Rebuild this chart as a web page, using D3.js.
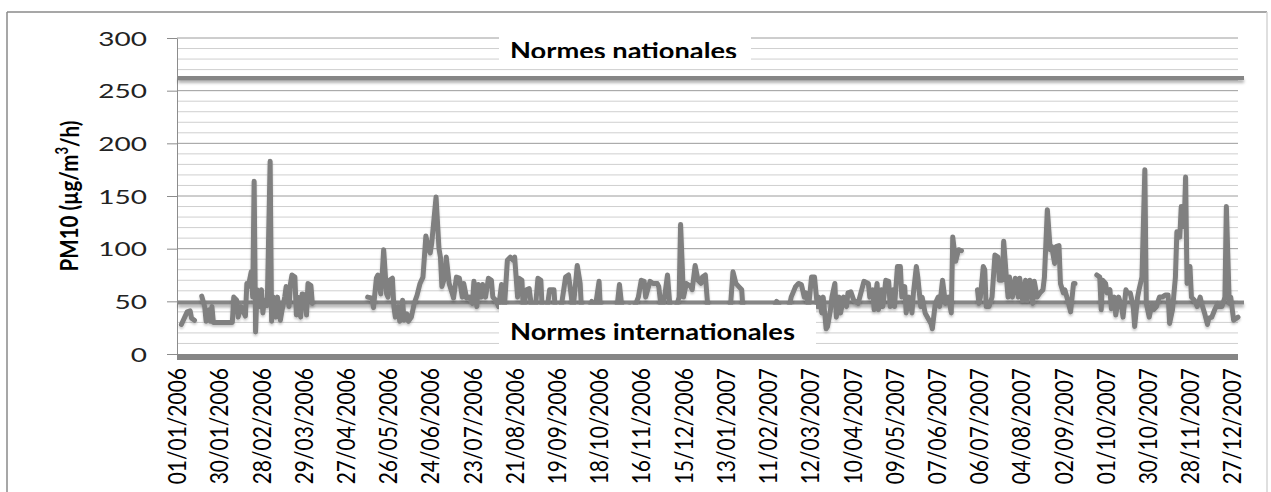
<!DOCTYPE html>
<html><head><meta charset="utf-8">
<script src="https://cdn.jsdelivr.net/npm/d3@7"></script>
<style>body{margin:0;background:#fff}</style>
</head><body><svg id="c" width="1271" height="492"></svg>
<script>
// ---- data ----
const tickLabels = ["01/01/2006","30/01/2006","28/02/2006","29/03/2006","27/04/2006","26/05/2006","24/06/2006","23/07/2006","21/08/2006","19/09/2006","18/10/2006","16/11/2006","15/12/2006","13/01/2007","11/02/2007","12/03/2007","10/04/2007","09/05/2007","07/06/2007","06/07/2007","04/08/2007","02/09/2007","01/10/2007","30/10/2007","28/11/2007","27/12/2007"];
const yTicks = [0,50,100,150,200,250,300];
const firstDay = "01/01/2006", lastDay = "31/12/2007";
const normeNationale = 262;
const normeInternationale = 49;
const normeLabels = ["Normes nationales", "Normes internationales"];
const yTitle = "PM10 (µg/m";
// [day offset from 01/01/2006, PM10 value]; null = missing data
const pm10Readings = [
[3,28],[7,40],[9,41],[10,34],[12,32],[14,null],
[17,55],[19,45],[20,31],[22,42],[23,31],[24,45],[25,30],[30,30],[34,30],[38,30],
[39,54],[41,51],[42,35],[44,45],[47,36],[48,67],[49,64],[51,78],[52,54],[53,164],
[54,21],[55,61],[57,45],[58,61],[59,39],[60,51],[62,46],[64,183],[65,31],[66,54],
[68,35],[69,54],[71,32],[72,40],[74,54],[75,64],[77,45],[78,67],[79,75],[81,73],
[82,37],[83,54],[85,35],[86,57],[88,56],[89,37],[90,67],[92,65],[93,48],[110,null],
[131,54],[134,53],[135,44],[137,72],[138,75],[140,57],[141,76],[142,99],[144,57],[145,54],
[146,70],[148,72],[149,45],[150,35],[152,45],[153,31],[155,51],[156,32],[158,38],[159,31],
[161,35],[163,48],[165,56],[167,67],[169,73],[171,112],[173,99],[174,96],[175,105],[178,149],
[180,100],[181,92],[182,64],[184,73],[185,92],[187,67],[189,58],[190,53],[192,73],[194,72],
[196,54],[197,67],[199,53],[201,54],[203,48],[204,69],[206,45],[207,66],[209,54],[210,66],
[212,54],[214,72],[216,70],[217,54],[219,51],[221,45],[223,66],[225,45],[227,89],[229,92],
[231,89],[232,92],[234,54],[235,72],[237,70],[238,40],[240,61],[242,62],[244,40],[246,40],
[248,72],[250,70],[251,40],[254,40],[256,61],[259,61],[260,40],[264,45],[267,73],[269,75],
[271,54],[272,40],[275,84],[277,67],[278,40],[283,40],[285,50],[287,40],[290,69],[291,40],
[302,40],[304,66],[306,40],[311,45],[313,40],[317,54],[319,70],[321,69],[322,54],[325,69],
[327,67],[330,67],[331,64],[333,40],[335,54],[337,75],[339,40],[342,40],[345,54],[346,123],
[348,54],[350,67],[353,64],[354,61],[356,84],[358,70],[360,67],[361,73],[363,75],[365,40],
[370,40],[375,40],[380,40],[382,78],[384,67],[386,64],[388,61],[389,40],[395,40],[400,40],
[405,40],[410,40],[412,50],[416,40],[420,40],[422,54],[425,64],[427,67],[429,66],[431,54],
[432,58],[434,45],[436,73],[438,73],[440,45],[441,54],[443,39],[444,54],[446,24],[447,26],
[449,42],[450,54],[452,67],[453,35],[455,54],[456,39],[458,54],[460,45],[461,58],[463,59],
[465,51],[468,48],[472,69],[475,67],[476,54],[478,61],[479,42],[481,67],[482,42],[484,61],
[485,45],[487,70],[489,69],[490,45],[492,61],[493,45],[495,83],[497,83],[498,54],[500,64],
[501,39],[503,54],[505,39],[506,58],[508,83],[509,73],[511,45],[512,54],[514,39],[516,34],
[518,29],[519,24],[521,48],[523,54],[524,45],[526,70],[528,48],[530,54],[532,39],[533,111],
[535,88],[537,99],[539,98],[544,null],
[550,61],[551,48],[552,54],[554,83],[555,80],[556,45],[558,45],[560,54],[562,94],[564,92],
[565,70],[567,70],[568,107],[570,70],[571,54],[572,73],[574,54],[576,72],[578,54],[579,72],
[581,51],[583,70],[584,51],[586,70],[588,48],[589,69],[591,54],[593,58],[595,61],[596,73],
[598,137],[600,99],[601,102],[603,86],[604,102],[606,103],[607,67],[609,58],[610,61],[612,51],
[614,40],[616,67],[617,67],[625,null],
[632,75],[634,73],[635,42],[636,70],[638,67],[639,58],[641,61],[642,43],[644,54],[645,37],
[647,54],[649,45],[650,35],[652,61],[653,58],[655,58],[657,45],[658,26],[660,54],[661,61],
[663,73],[665,175],[666,48],[668,35],[670,48],[671,42],[673,45],[675,54],[677,54],[679,56],
[681,56],[682,29],[684,42],[686,73],[687,116],[689,111],[690,140],[692,121],[693,168],[694,67],
[696,83],[697,54],[699,51],[701,45],[703,54],[704,48],[706,39],[708,28],[709,34],[711,35],
[713,42],[715,48],[716,45],[718,45],[720,54],[721,140],[723,48],[724,54],[726,32],[728,34],[729,35]
];

// ---- chart ----
const svg = d3.select("#c");
const parse = d3.utcParse("%d/%m/%Y");
const fmt = d3.utcFormat("%d/%m/%Y");
const t0 = parse(firstDay);
const x = d3.scaleUtc().domain([t0, parse(lastDay)]).range([177, 1238]);
const y = d3.scaleLinear().domain([0, 300]).range([354, 38]);
const gray = "#868686";

const defs = svg.append("defs");
const f = defs.append("filter").attr("id","sh").attr("filterUnits","userSpaceOnUse")
  .attr("x",0).attr("y",0).attr("width",1271).attr("height",492);
f.append("feDropShadow").attr("dx",0).attr("dy",3).attr("stdDeviation",1.8).attr("flood-color","#000").attr("flood-opacity",0.3);
const f2 = defs.append("filter").attr("id","sh2").attr("filterUnits","userSpaceOnUse")
  .attr("x",0).attr("y",0).attr("width",1271).attr("height",492);
f2.append("feDropShadow").attr("dx",0).attr("dy",2).attr("stdDeviation",1.2).attr("flood-color","#000").attr("flood-opacity",0.2);

// frame
svg.append("line").attr("x1",7).attr("x2",1267).attr("y1",12).attr("y2",12).attr("stroke","#8a8a8a").attr("stroke-width",1.5);
svg.append("line").attr("x1",7).attr("x2",7).attr("y1",12).attr("y2",492).attr("stroke","#8a8a8a").attr("stroke-width",1.5);
svg.append("line").attr("x1",1267).attr("x2",1267).attr("y1",12).attr("y2",492).attr("stroke","#d4d4d4").attr("stroke-width",1.5);

// gridlines
const gridVals = d3.range(10, 301, 10);
svg.append("g").selectAll("line").data(gridVals).join("line")
  .attr("x1", x.range()[0]).attr("x2", x.range()[1])
  .attr("y1", d => y(d)).attr("y2", d => y(d))
  .attr("stroke", d => d % 50 === 0 ? "#9c9c9c" : "#cfcfcf").attr("stroke-width", 1);

// y axis
const yAxis = svg.append("g").attr("transform", "translate(177,0)")
  .call(d3.axisLeft(y).tickValues(yTicks).tickSize(10).tickSizeOuter(0));
yAxis.select(".domain").attr("stroke", "#8c8c8c");
yAxis.selectAll(".tick line").attr("stroke", "#8c8c8c");
yAxis.selectAll(".tick text").attr("x", 0).attr("dy", "0.36em")
  .attr("transform", "translate(-30,0) scale(1.4,1)")
  .attr("font-family", "Lato").attr("font-size", 20).attr("fill", "#222");

// y title
const yt = svg.append("text").attr("transform", "translate(69,196) scale(1.25,1) rotate(-90)")
  .attr("text-anchor", "middle").attr("dy", "0.36em")
  .attr("font-family", "Lato").attr("font-weight", "bold").attr("font-size", 20.5).attr("fill", "#000");
yt.append("tspan").text(yTitle);
yt.append("tspan").attr("font-size", 13).attr("dy", "-0.6em").text("3");
yt.append("tspan").attr("dy", "0.4em").text("/h)");

// x axis labels
const xAxis = svg.append("g").attr("transform", "translate(0,354)")
  .call(d3.axisBottom(x).tickValues(tickLabels.map(parse)).tickSize(0).tickFormat(fmt));
xAxis.select(".domain").remove();
xAxis.selectAll(".tick text").attr("x", 0).attr("y", 0).attr("dy", "0.36em")
  .attr("text-anchor", "end")
  .attr("transform", "translate(0,14) scale(1.15,1) rotate(-90)")
  .attr("font-family", "Lato").attr("font-size", 21).attr("fill", "#000");

// norm lines
[normeNationale, normeInternationale].forEach(v => {
  svg.append("line").attr("x1", 178).attr("x2", 1244).attr("y1", y(v)).attr("y2", y(v))
    .attr("stroke", gray).attr("stroke-width", 4).attr("filter", "url(#sh)");
});

// zero bar
svg.append("line").attr("x1", 177).attr("x2", 1238).attr("y1", y(0) + 3).attr("y2", y(0) + 3)
  .attr("stroke", gray).attr("stroke-width", 6);

// data line
const line = d3.line()
  .defined(d => d[1] != null)
  .x(d => x(d3.utcDay.offset(t0, d[0])))
  .y(d => y(d[1]));
svg.append("path").datum(pm10Readings).attr("d", line)
  .attr("fill", "none").attr("stroke", "#808080").attr("stroke-width", 5)
  .attr("stroke-linejoin", "round").attr("stroke-linecap", "round").attr("filter", "url(#sh2)");

// label boxes
const clip = defs.append("clipPath").attr("id", "cp1");
clip.append("rect").attr("x", 499).attr("y", 28).attr("width", 252).attr("height", 30);
svg.append("rect").attr("x", 499).attr("y", 28).attr("width", 252).attr("height", 32).attr("fill", "#fff");
svg.append("text").attr("clip-path", "url(#cp1)").attr("x", 510).attr("y", 58.5)
  .attr("textLength", 227).attr("lengthAdjust", "spacingAndGlyphs")
  .attr("font-family", "Lato").attr("font-weight", "bold").attr("font-size", 23).attr("fill", "#000")
  .text(normeLabels[0]);

svg.append("rect").attr("x", 499).attr("y", y(normeInternationale) + 2.5).attr("width", 317)
  .attr("height", y(0) - y(normeInternationale) - 2.5).attr("fill", "#fff");
svg.append("text").attr("x", 510).attr("y", 340)
  .attr("textLength", 285).attr("lengthAdjust", "spacingAndGlyphs")
  .attr("font-family", "Lato").attr("font-weight", "bold").attr("font-size", 23).attr("fill", "#000")
  .text(normeLabels[1]);
</script></body></html>
